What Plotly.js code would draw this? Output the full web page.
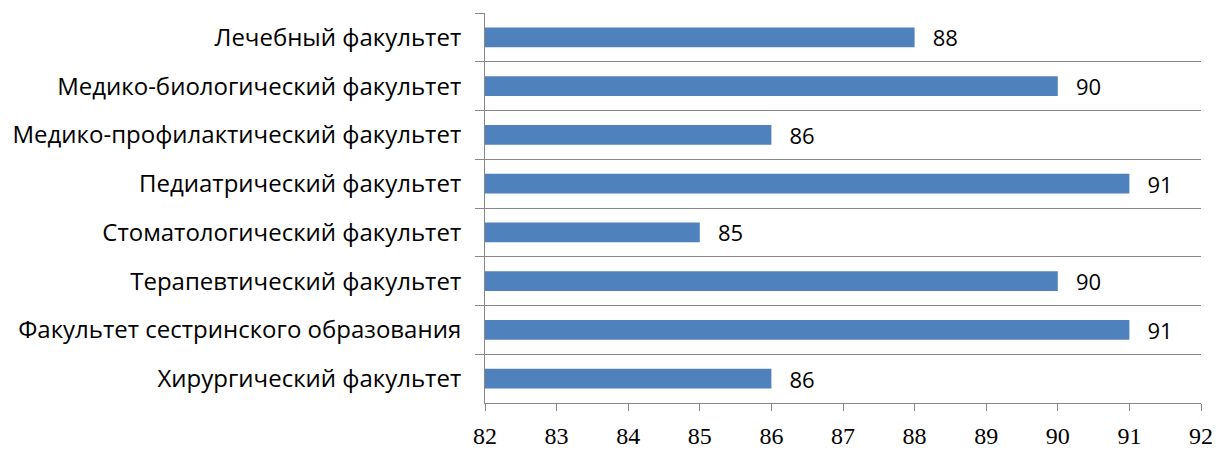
<!DOCTYPE html>
<html><head><meta charset="utf-8">
<script src="https://cdn.plot.ly/plotly-3.0.1.min.js"></script>
<style>html,body{margin:0;padding:0;background:#fff}#chart{width:1218px;height:450px}</style>
</head><body><div id="chart"></div>
<script>
const categories = [
  "Лечебный факультет",
  "Медико-биологический факультет",
  "Медико-профилактический факультет",
  "Педиатрический факультет",
  "Стоматологический факультет",
  "Терапевтический факультет",
  "Факультет сестринского образования",
  "Хирургический факультет"
];
const values = [88, 90, 86, 91, 85, 90, 91, 86];
const xTicks = [82, 83, 84, 85, 86, 87, 88, 89, 90, 91, 92];

const trace = {
  type: "bar",
  orientation: "h",
  y: categories,
  x: values,
  base: 0,
  width: 0.41,
  marker: {color: "#4F81BD"},
  text: values.map(v => "\u00a0\u00a0\u2009" + v),
  textposition: "outside",
  constraintext: "none",
  textfont: {family: "Open Sans, Noto Sans, sans-serif", size: 22, color: "#000"},
  cliponaxis: false,
  hoverinfo: "none"
};

const layout = {
  width: 1218, height: 450,
  margin: {l: 485, r: 17, t: 13, b: 47},
  paper_bgcolor: "#fff", plot_bgcolor: "#fff",
  showlegend: false,
  xaxis: {
    range: [82, 92],
    tickvals: xTicks,
    ticktext: xTicks.map(String),
    showgrid: false,
    zeroline: false,
    showline: true, linecolor: "#868686", linewidth: 1,
    ticks: "outside", ticklen: 7, tickcolor: "#868686",
    ticklabelstandoff: 4,
    tickfont: {family: "Liberation Serif, serif", size: 24, color: "#000"}
  },
  yaxis: {
    type: "category",
    autorange: "reversed",
    tickson: "boundaries",
    showgrid: true, gridcolor: "#868686", gridwidth: 1,
    showline: true, linecolor: "#868686", linewidth: 1,
    ticks: "outside", ticklen: 9, tickcolor: "#868686",
    ticklabelstandoff: 18,
    tickfont: {family: "Open Sans, Noto Sans, sans-serif", size: 24, color: "#000"}
  }
};

Plotly.newPlot("chart", [trace], layout, {displayModeBar: false, staticPlot: true});
</script></body></html>
